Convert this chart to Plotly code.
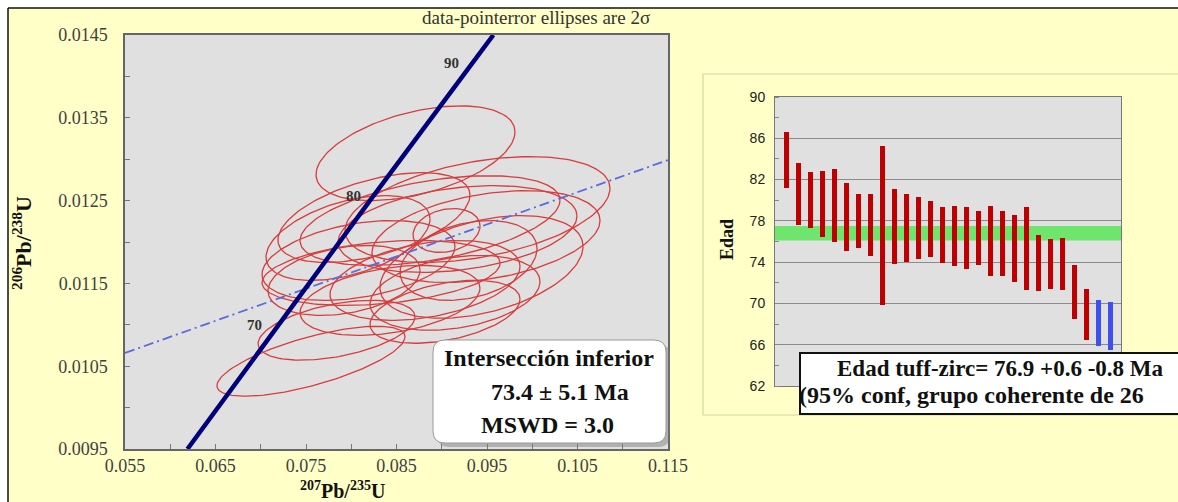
import numpy as np
import plotly.graph_objects as go

W, H = 1178, 502

# ---------------- data: concordia diagram ----------------
x_ticks = [0.055, 0.065, 0.075, 0.085, 0.095, 0.105, 0.115]
y_ticks = [0.0095, 0.0105, 0.0115, 0.0125, 0.0135, 0.0145]

conc_age = [61, 70, 80, 90, 92.8]
conc_x = [0.0619, 0.0714, 0.0820, 0.0927, 0.0957]
conc_y = [0.0095, 0.01092, 0.01249, 0.01406, 0.0145]
conc_labels = ["70", "80", "90"]

disc_x = [0.055, 0.115]
disc_y = [0.01066, 0.01299]

ell_cx = [0.08710, 0.09395, 0.09489, 0.09174, 0.08870, 0.08251, 0.07964, 0.08080, 0.07920, 0.09296,
          0.09439, 0.08815, 0.09146, 0.09036, 0.08428, 0.07555, 0.07837, 0.09053, 0.08329]
ell_cy = [0.013072, 0.012392, 0.012066, 0.012157, 0.012259, 0.012295, 0.012048, 0.011777, 0.011536, 0.011777,
          0.011699, 0.011536, 0.011386, 0.011157, 0.011295, 0.010560, 0.010934, 0.012139, 0.011627]
ell_sx = [0.01099, 0.01464, 0.01260, 0.01320, 0.01436, 0.01061, 0.00906, 0.01066, 0.00840, 0.00757,
          0.01122, 0.01050, 0.00939, 0.00829, 0.00994, 0.01039, 0.00867, 0.00370, 0.01315]
ell_sy = [0.000572, 0.000639, 0.000554, 0.000524, 0.000542, 0.000542, 0.000512, 0.000482, 0.000422, 0.000482,
          0.000620, 0.000482, 0.000452, 0.000380, 0.000422, 0.000422, 0.000361, 0.000265, 0.000392]
ell_rho = [0.45, 0.40, 0.35, 0.30, 0.45, 0.50, 0.45, 0.35, 0.30, 0.30,
           0.40, 0.35, 0.30, 0.40, 0.35, 0.70, 0.45, 0.20, 0.30]

# ---------------- data: age bars ----------------
bar_high = [86.6, 83.6, 82.75, 82.85, 83.0, 81.7, 80.65, 80.65, 85.25, 81.1, 80.6, 80.3, 79.9, 79.35,
            79.45, 79.35, 78.95, 79.45, 78.95, 78.55, 79.35, 76.65, 76.25, 76.35, 73.75, 71.4, 70.3, 70.1]
bar_low = [81.2, 77.6, 77.3, 76.4, 76.0, 75.1, 75.4, 74.6, 69.8, 73.85, 74.0, 74.3, 74.5, 73.9,
           73.6, 73.3, 73.7, 72.7, 72.7, 72.1, 71.3, 71.2, 71.4, 71.3, 68.45, 66.5, 65.9, 65.5]
bar_group = ["in"] * 26 + ["out"] * 2
age_ticks = [62, 66, 70, 74, 78, 82, 86, 90]
mean_age, plus_err, minus_err = 76.9, 0.6, 0.8

# ---------------- helpers ----------------
def px(x):
    return x / W

def py(y):
    return 1 - y / H

SERIF = "Liberation Serif"
SANS = "Liberation Sans"
YELLOW = "#ffffc8"

fig = go.Figure()

# ellipses
t = np.linspace(0, 2 * np.pi, 160)
for cx, cy, sx, sy, r in zip(ell_cx, ell_cy, ell_sx, ell_sy, ell_rho):
    ex = cx + sx * np.cos(t)
    ey = cy + sy * (r * np.cos(t) + np.sqrt(1 - r * r) * np.sin(t))
    fig.add_trace(go.Scatter(x=ex, y=ey, mode="lines", line=dict(color="#d83c3c", width=1.3),
                             hoverinfo="skip", showlegend=False, xaxis="x", yaxis="y"))

# discordia
fig.add_trace(go.Scatter(x=disc_x, y=disc_y, mode="lines",
                         line=dict(color="#5a6ae0", width=1.8, dash="10px,4px,2px,4px"),
                         showlegend=False, xaxis="x", yaxis="y"))
# concordia
fig.add_trace(go.Scatter(x=conc_x, y=conc_y, mode="lines", line=dict(color="#00007a", width=4.5),
                         showlegend=False, xaxis="x", yaxis="y"))

# age bars
colors = ["#c00000" if g == "in" else "#4050f0" for g in bar_group]
idx = list(range(1, len(bar_high) + 1))
fig.add_trace(go.Bar(x=idx, y=[h - l for h, l in zip(bar_high, bar_low)], base=bar_low,
                     marker=dict(color=colors, line=dict(width=0)), width=0.42,
                     showlegend=False, xaxis="x2", yaxis="y2"))

shapes = []
# white page margin strips (top and left) and black border
shapes.append(dict(type="rect", xref="paper", yref="paper", x0=-0.02, x1=px(8), y0=-0.02, y1=1.02,
                   fillcolor="white", line=dict(width=0), layer="below"))
shapes.append(dict(type="rect", xref="paper", yref="paper", x0=-0.02, x1=1.02, y0=py(8), y1=1.02,
                   fillcolor="white", line=dict(width=0), layer="below"))
shapes.append(dict(type="line", xref="paper", yref="paper", x0=px(8), x1=px(8), y0=-0.02, y1=py(8),
                   line=dict(color="#111111", width=1.5), layer="below"))
shapes.append(dict(type="line", xref="paper", yref="paper", x0=px(8), x1=1.02, y0=py(8), y1=py(8),
                   line=dict(color="#111111", width=1.5), layer="below"))
# right panel frame
shapes.append(dict(type="rect", xref="paper", yref="paper", x0=px(703), x1=1.02, y0=py(415), y1=py(74),
                   line=dict(color="#d6d6a8", width=1.2), layer="below"))
# green confidence band
shapes.append(dict(type="rect", xref="x2 domain", yref="y2", x0=0, x1=1,
                   y0=mean_age - minus_err, y1=mean_age + plus_err,
                   fillcolor="#6ee66e", line=dict(width=0), layer="below"))

# rounded box (left) with shadow
def rounded(x0, y0, x1, y1, r):
    rx, ry = r / W, r / H
    X0, X1, Y0, Y1 = px(x0), px(x1), py(y0), py(y1)
    return (f"M {X0+rx},{Y0} L {X1-rx},{Y0} Q {X1},{Y0} {X1},{Y0-ry} L {X1},{Y1+ry} "
            f"Q {X1},{Y1} {X1-rx},{Y1} L {X0+rx},{Y1} Q {X0},{Y1} {X0},{Y1+ry} "
            f"L {X0},{Y0-ry} Q {X0},{Y0} {X0+rx},{Y0} Z")

shapes.append(dict(type="path", xref="paper", yref="paper", path=rounded(437, 344, 670, 447, 12),
                   fillcolor="rgba(120,120,120,0.45)", line=dict(width=0)))
shapes.append(dict(type="path", xref="paper", yref="paper", path=rounded(433, 340, 666, 443, 12),
                   fillcolor="white", line=dict(color="#9a9a9a", width=1)))
# right box
shapes.append(dict(type="rect", xref="paper", yref="paper", x0=px(800), x1=px(1192), y0=py(414), y1=py(353),
                   fillcolor="white", line=dict(color="#111111", width=2)))

ann = []
# title
ann.append(dict(text="data-pointerror ellipses are 2σ", x=px(536), y=py(18), xref="paper", yref="paper",
                xanchor="center", yanchor="middle",
                showarrow=False, font=dict(family=SERIF, size=19, color="#333333")))
# axis titles
ann.append(dict(text="<b><sup>207</sup>Pb/<sup>235</sup>U</b>", x=px(342), y=py(490), xref="paper", yref="paper",
                xanchor="center", yanchor="middle",
                showarrow=False, font=dict(family=SERIF, size=20, color="#111111")))
ann.append(dict(text="<b><sup>206</sup>Pb/<sup>238</sup>U</b>", x=px(22), y=py(243), xref="paper", yref="paper",
                xanchor="center", yanchor="middle",
                textangle=-90, showarrow=False, font=dict(family=SERIF, size=22, color="#111111")))
ann.append(dict(text="<b>Edad</b>", x=px(727), y=py(240), xref="paper", yref="paper", textangle=-90,
                xanchor="center", yanchor="middle",
                showarrow=False, font=dict(family=SERIF, size=18, color="#111111")))
# concordia age labels
shifts = [(-19, 6), (-16, 5), (-15, 8)]
for lab, (dx, dy), cx, cy in zip(conc_labels, shifts, conc_x[1:4], conc_y[1:4]):
    ann.append(dict(text=f"<b>{lab}</b>", x=cx, y=cy, xref="x", yref="y", xshift=dx, yshift=dy,
                    xanchor="center", yanchor="middle",
                    showarrow=False, font=dict(family=SERIF, size=15, color="#333333")))
# left box text
box_lines = ["<b>Intersección inferior</b>", "<b>73.4 ± 5.1 Ma</b>", "<b>MSWD = 3.0</b>"]
box_pos = [(549, 358), (560, 392), (547, 425)]
for txt, (bx, by) in zip(box_lines, box_pos):
    ann.append(dict(text=txt, x=px(bx), y=py(by), xref="paper", yref="paper",
                    xanchor="center", yanchor="middle",
                    showarrow=False, font=dict(family=SERIF, size=24, color="#111111")))
# right box text
ann.append(dict(text=f"<b>Edad tuff-zirc= {mean_age} +{plus_err} -{minus_err} Ma</b>", x=px(1000), y=py(368),
                xanchor="center", yanchor="middle",
                xref="paper", yref="paper", showarrow=False, font=dict(family=SERIF, size=23, color="#111111")))
ann.append(dict(text="<b>(95% conf, grupo coherente de 26</b>", x=px(797), y=py(395), xanchor="left",
                yanchor="middle",
                xref="paper", yref="paper", showarrow=False, font=dict(family=SERIF, size=24, color="#111111")))

fig.update_layout(
    width=W, height=H, margin=dict(l=0, r=0, t=0, b=0, autoexpand=False),
    paper_bgcolor=YELLOW, plot_bgcolor="#e0e0e0",
    shapes=shapes, annotations=ann, bargap=0,
    xaxis=dict(domain=[px(125), px(668)], range=[x_ticks[0], x_ticks[-1]], tickvals=x_ticks,
               ticktext=[f"{v:.3f}" for v in x_ticks], ticks="inside", ticklen=5, tickcolor="#777777",
               minor=dict(dtick=0.005, tick0=0.055, ticks="inside", ticklen=5, tickcolor="#777777"),
               showgrid=False, zeroline=False, showline=True, mirror=True, linecolor="#666666", linewidth=1.5,
               tickfont=dict(family=SERIF, size=18, color="#3f3f3f"), ticklabelstandoff=0,
               anchor="y"),
    yaxis=dict(domain=[py(449), py(35)], range=[y_ticks[0], y_ticks[-1]], tickvals=y_ticks,
               ticktext=[f"{v:.4f}" for v in y_ticks], ticks="inside", ticklen=5, tickcolor="#777777",
               minor=dict(dtick=0.0005, tick0=0.0095, ticks="inside", ticklen=5, tickcolor="#777777"),
               showgrid=False, zeroline=False, showline=True, mirror=True, linecolor="#666666", linewidth=1.5,
               tickfont=dict(family=SERIF, size=18, color="#3f3f3f"), ticklabelstandoff=12,
               anchor="x"),
    xaxis2=dict(domain=[px(775), px(1121)], range=[0, 28.9], showticklabels=False, ticks="",
                showgrid=False, zeroline=False, showline=True, mirror=True, linecolor="#777777",
                linewidth=1, anchor="y2"),
    yaxis2=dict(domain=[py(386), py(97)], range=[62, 90], tickvals=age_ticks, ticks="",
                showgrid=True, gridcolor="#8c8c8c", gridwidth=1, zeroline=False,
                minor=dict(dtick=2, ticks="inside", ticklen=4, tickcolor="#888888", showgrid=False),
                showline=True, mirror=True, linecolor="#777777", linewidth=1,
                tickfont=dict(family=SANS, size=14, color="#222222"), ticklabelstandoff=6, anchor="x2"),
)

fig.write_html("out.html",
               post_script="document.body.style.margin='0';document.body.style.overflow='hidden';")
